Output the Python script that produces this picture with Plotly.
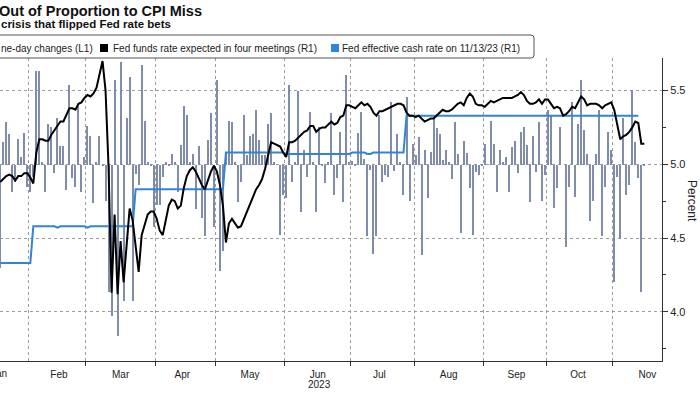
import pandas as pd
import plotly.graph_objects as go

# ---------------- data ----------------
# business days shown on the axis (weekends and Feb 20 are not on the axis)
dates = [d.strftime("%Y-%m-%d") for d in pd.bdate_range("2023-01-18", "2023-11-15")
         if d.strftime("%Y-%m-%d") != "2023-02-20"]

# Fed funds rate expected in four meetings (R1, percent)
fed4_jan = [4.88, 4.90, 4.92, 4.93, 4.92, 4.89, 4.92, 4.92, 4.94, 4.94]
fed4_feb = [4.91, 4.87, 5.08, 5.17, 5.17, 5.16, 5.16, 5.20, 5.23, 5.26, 5.29, 5.29, 5.33,
            5.38, 5.38, 5.37, 5.41, 5.42, 5.45]
fed4_mar = [5.47, 5.46, 5.48, 5.52, 5.62, 5.70, 5.50, 4.98, 4.13, 4.66, 4.12, 4.48, 4.20,
            4.45, 4.70, 4.62, 4.45, 4.27, 4.52, 4.60, 4.66, 4.68, 4.68]
fed4_apr = [4.63, 4.55, 4.52, 4.61, 4.72, 4.76, 4.75, 4.70, 4.72, 4.84, 4.92, 4.96, 4.98,
            4.95, 4.90, 4.86, 4.83, 4.89, 4.95, 4.99]
fed4_may = [4.95, 4.86, 4.72, 4.47, 4.60, 4.63, 4.60, 4.57, 4.58, 4.63, 4.67, 4.72, 4.78,
            4.83, 4.86, 4.90, 4.97, 5.07, 5.15, 5.14, 5.13, 5.12, 5.08]
fed4_jun = [5.05, 5.15, 5.15, 5.16, 5.18, 5.20, 5.22, 5.23, 5.26, 5.26, 5.22, 5.24, 5.25,
            5.25, 5.27, 5.29, 5.27, 5.28, 5.32, 5.33, 5.40, 5.40]
fed4_jul = [5.39, 5.38, 5.40, 5.42, 5.40, 5.41, 5.39, 5.35, 5.33, 5.36, 5.36, 5.37, 5.38,
            5.39, 5.40, 5.41, 5.41, 5.40, 5.35, 5.33, 5.33]
fed4_aug = [5.32, 5.33, 5.31, 5.29, 5.30, 5.31, 5.31, 5.33, 5.35, 5.37, 5.36, 5.36, 5.37,
            5.39, 5.41, 5.42, 5.40, 5.45, 5.48, 5.46, 5.41, 5.40, 5.40]
fed4_sep = [5.39, 5.41, 5.43, 5.42, 5.43, 5.44, 5.45, 5.45, 5.45, 5.45, 5.46, 5.47, 5.49,
            5.47, 5.43, 5.41, 5.41, 5.42, 5.44, 5.41, 5.44]
fed4_oct = [5.44, 5.41, 5.38, 5.39, 5.38, 5.33, 5.34, 5.36, 5.39, 5.38, 5.42, 5.46, 5.44,
            5.40, 5.41, 5.41, 5.41, 5.40, 5.38, 5.40, 5.41, 5.42]
fed4_nov = [5.37, 5.27, 5.17, 5.19, 5.20, 5.22, 5.25, 5.29, 5.28, 5.14, 5.14]

# Fed effective cash rate (R1, percent); line ends on 11/13/23
effr_jan = [4.33] * 10
effr_feb = [4.33] + [4.58] * 8 + [4.57] + [4.58] * 9
effr_mar = [4.57] + [4.58] * 15 + [4.83] * 7
effr_apr = [4.83] * 20
effr_may = [4.83] * 3 + [5.08] * 20
effr_jun = [5.07] * 22
effr_jul = [5.08] * 5 + [5.07] * 2 + [5.08] * 11 + [5.33] * 3
effr_aug = [5.33] * 23
effr_sep = [5.33] * 21
effr_oct = [5.33] * 22
effr_nov = [5.33] * 9 + [None, None]

# one-day changes (L1, basis points)
chg_jan = [-35, 7.7, 14.7, 10.7, -9, -5.6, 8.8, 2.8, 11, -7.3]
chg_feb = [-9, -4, 32, 32, 1, -9, 14, 13, -2.8, 16, 6.5, 6.5, -8.5, 27, -4.5, -7.3, 20, -9, 2.8]
chg_mar = [13.3, 10, -13, 1, 10, 0.5, -12, -43, -51, 29, -58, 35, -46, 16, 30, -46, -3,
           -6.8, 34, 15, 1, 0.5, -21]
chg_apr = [-13.6, -13.6, -4, 1, 0.5, 3.6, 1, -9, 6.8, 20, 17, 1, 3.6, -15, 6.5, -18, -24,
           8.5, 17.5, -21]
chg_may = [29, -36, -29, 4.5, 15, 14.7, 1, -12.4, -5.6, 17, 3.4, 10, 10.7, 18.6, 8.5, 3.4,
           3.4, 14, 17.5, 1, 0, -23.7, -10]
chg_jun = [-11.3, 27, -5.6, 1, 25, -16, 5, -4, 18, 1, -16, 13, 0.5, -6.2, 1, 17.5, -10,
           -4.5, 11.3, -12.4, 30.7, 1]
chg_jul = [1.5, 0.5, 11, 18, 2, -24, -1.7, -30, -24, 17, -5.6, -3.4, -4, 21.5, -2, 10.7, 1,
           -10, 23, -12, 7]
chg_aug = [3.4, 9.6, -30.5, 5, -11.3, 4.3, 16.4, 12.7, 10.5, 1.7, 5, 1, -4.7, 14.7, 3.6,
           -23, 8, 4, -7.7, -23.7, -2.3, -3.4, 0.5]
chg_sep = [7.3, 0, 15, 7, -9, 5, 1, 2.8, -9, 6.2, 8, -2.8, 11.3, 13, 6.8, -12.4, 10, -2.3,
           14.7, -12, -3.4]
chg_oct = [18.6, 17, -14.7, -7.9, 13, 0, -27.7, -7.3, 21.5, -10.7, 14, 28.8, 11.9, 3.6, -19,
           -12, 3.6, 18.6, -24, -7.3, 11.3, 5]
chg_nov = [-39.5, -4, -25, 15.8, -10, -6.8, 25.4, 7.9, -4.5, -43, 0.5]

fed4 = (fed4_jan + fed4_feb + fed4_mar + fed4_apr + fed4_may + fed4_jun + fed4_jul +
        fed4_aug + fed4_sep + fed4_oct + fed4_nov)
effr = (effr_jan + effr_feb + effr_mar + effr_apr + effr_may + effr_jun + effr_jul +
        effr_aug + effr_sep + effr_oct + effr_nov)
chg = (chg_jan + chg_feb + chg_mar + chg_apr + chg_may + chg_jun + chg_jul +
       chg_aug + chg_sep + chg_oct + chg_nov)
assert len(dates) == len(fed4) == len(effr) == len(chg), (len(dates), len(fed4), len(effr), len(chg))

title_text = "Out of Proportion to CPI Miss"
subtitle_text = "crisis that flipped Fed rate bets"
legend_texts = ["ne-day changes (L1)",
                "Fed funds rate expected in four meetings (R1)",
                "Fed effective cash rate on 11/13/23 (R1)"]

# ---------------- figure ----------------
W, H = 700, 394
ML, MR, MT, MB = 0, 38, 58, 33
PW, PH = W - ML - MR, H - MT - MB
def px(p):   # pixel x -> paper
    return (p - ML) / PW
def py(p):   # pixel y -> paper
    return (H - MB - p) / PH

FONT = "Liberation Sans"
BAR_C = "#7f8dab"
BLUE = "#3284d6"
GRID = "#9c9c9c"

xs = [d + " 12:00" for d in dates]

fig = go.Figure()
fig.add_trace(go.Bar(x=xs, y=chg, marker=dict(color=BAR_C, line=dict(width=0)),
                     width=0.36 * 86400000, yaxis="y", hoverinfo="skip"))
fig.add_trace(go.Scatter(x=xs, y=effr, mode="lines", line=dict(color=BLUE, width=2),
                         yaxis="y2", connectgaps=False))
fig.add_trace(go.Scatter(x=xs, y=fed4, mode="lines", line=dict(color="#000000", width=2),
                         yaxis="y2"))

fig.update_layout(
    width=W, height=H, margin=dict(l=ML, r=MR, t=MT, b=MB),
    paper_bgcolor="white", plot_bgcolor="white", showlegend=False, bargap=0,
    font=dict(family=FONT, color="#222"),
    xaxis=dict(type="date", range=["2023-01-18 10:20", "2023-11-23 09:00"],
               rangebreaks=[dict(bounds=["sat", "mon"]), dict(values=["2023-02-20"])],
               tick0="2023-01-01", dtick="M1", tickformat="%b", ticklabelmode="period",
               showgrid=True, gridcolor=GRID, griddash="dot", gridwidth=1,
               ticks="outside", ticklen=4, tickcolor="#333",
               showline=True, linecolor="#333", linewidth=1, zeroline=False,
               tickfont=dict(family=FONT, size=10, color="#222")),
    yaxis=dict(range=[-66.4, 36.3], visible=False, showgrid=False, zeroline=False),
    yaxis2=dict(overlaying="y", side="right", range=[3.6664, 5.7207],
                tick0=4.0, dtick=0.5, tickformat=".1f",
                showgrid=True, gridcolor=GRID, griddash="dot", gridwidth=1,
                ticks="outside", ticklen=5, tickcolor="#333",
                minor=dict(dtick=0.25, ticks="outside", ticklen=3, tickcolor="#333",
                           showgrid=False),
                showline=True, linecolor="#333", linewidth=1, zeroline=False,
                tickfont=dict(family=FONT, size=11, color="#222")),
)

# legend box (rounded, runs off the left edge)
x0, x1, yt, yb, r = -10, 534, 35, 58, 3
path = (f"M {px(x0)},{py(yb)} L {px(x1 - r)},{py(yb)} Q {px(x1)},{py(yb)} {px(x1)},{py(yb - r)} "
        f"L {px(x1)},{py(yt + r)} Q {px(x1)},{py(yt)} {px(x1 - r)},{py(yt)} L {px(x0)},{py(yt)}")
fig.add_shape(type="path", path=path, xref="paper", yref="paper",
              line=dict(color="#555", width=1))
fig.add_shape(type="rect", xref="paper", yref="paper", x0=px(100), x1=px(108),
              y0=py(52), y1=py(44), fillcolor="#000", line=dict(width=0))
fig.add_shape(type="rect", xref="paper", yref="paper", x0=px(331), x1=px(339),
              y0=py(52), y1=py(44), fillcolor=BLUE, line=dict(width=0))

ann = []
ann.append(dict(text="<b>" + title_text + "</b>", x=px(-3), y=py(11), xanchor="left",
                yanchor="middle", font=dict(size=14.5, color="#111", family=FONT)))
ann.append(dict(text="<b>" + subtitle_text + "</b>", x=px(-1), y=py(24), xanchor="left",
                yanchor="middle", font=dict(size=11.5, color="#111", family=FONT)))
for t, xp in zip(legend_texts, [-1, 111, 340]):
    ann.append(dict(text=t, x=px(xp), y=py(48.5), xanchor="left", yanchor="middle",
                    font=dict(size=10, color="#222", family=FONT)))
ann.append(dict(text="Percent", x=px(692), y=py(201), textangle=90, xanchor="center",
                yanchor="middle", font=dict(size=12, color="#222", family=FONT)))
ann.append(dict(text="2023", x=px(319), y=py(384), xanchor="center", yanchor="middle",
                font=dict(size=10, color="#222", family=FONT)))
ann.append(dict(text="Jan", x=px(-1), y=py(373), xanchor="center", yanchor="middle",
                font=dict(size=10, color="#222", family=FONT)))
for a in ann:
    a.update(xref="paper", yref="paper", showarrow=False)
fig.update_layout(annotations=ann)

fig.write_html("out.html", config={"displayModeBar": False},
               post_script="document.body.style.margin='0px';")
